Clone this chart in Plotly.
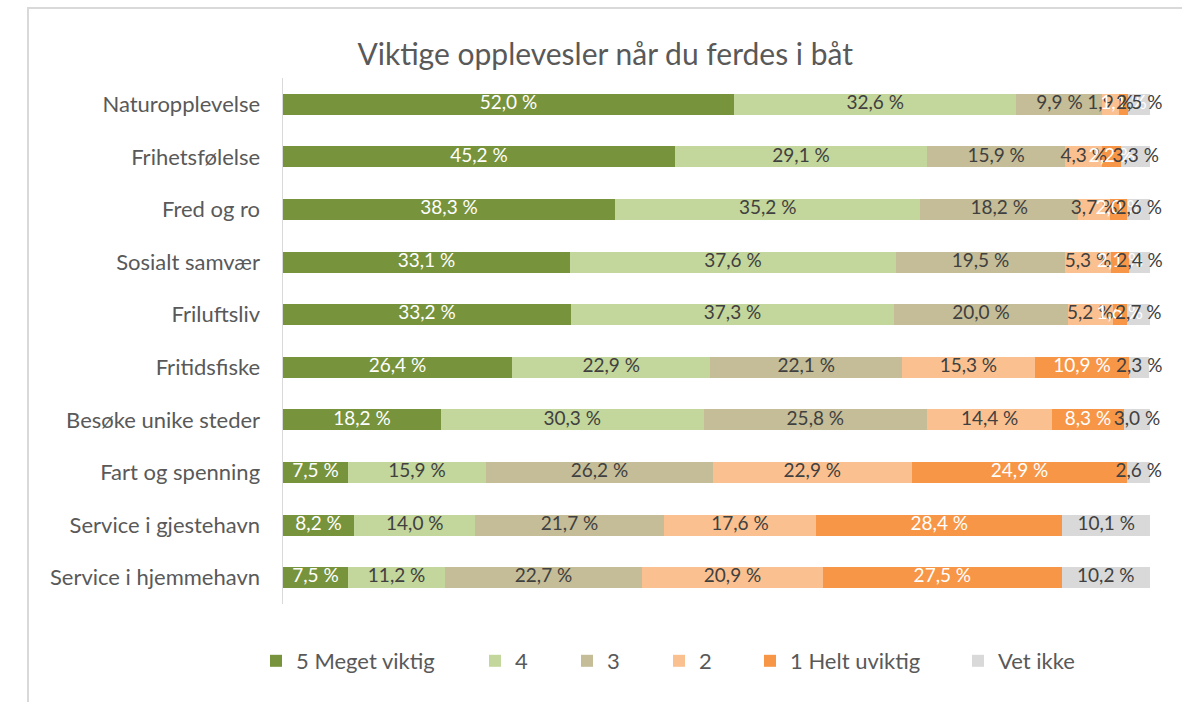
import plotly.graph_objects as go

categories = ["Naturopplevelse", "Frihetsfølelse", "Fred og ro", "Sosialt samvær",
              "Friluftsliv", "Fritidsfiske", "Besøke unike steder", "Fart og spenning",
              "Service i gjestehavn", "Service i hjemmehavn"]

series_names = ["5 Meget viktig", "4", "3", "2", "1 Helt uviktig", "Vet ikke"]

v5 = [52.0, 45.2, 38.3, 33.1, 33.2, 26.4, 18.2, 7.5, 8.2, 7.5]
v4 = [32.6, 29.1, 35.2, 37.6, 37.3, 22.9, 30.3, 15.9, 14.0, 11.2]
v3 = [9.9, 15.9, 18.2, 19.5, 20.0, 22.1, 25.8, 26.2, 21.7, 22.7]
v2 = [1.9, 4.3, 3.7, 5.3, 5.2, 15.3, 14.4, 22.9, 17.6, 20.9]
v1 = [1.1, 2.2, 2.0, 2.1, 1.6, 10.9, 8.3, 24.9, 28.4, 27.5]
v0 = [2.5, 3.3, 2.6, 2.4, 2.7, 2.3, 3.0, 2.6, 10.1, 10.2]

series_values = [v5, v4, v3, v2, v1, v0]
colors = ["#77933C", "#C3D69B", "#C4BD97", "#FAC090", "#F79646", "#D9D9D9"]
text_colors = ["#FFFFFF", "#404040", "#404040", "#404040", "#FFFFFF", "#404040"]

FONT = "Lato"
L, R, T, B = 283, 32, 78, 98
W, H = 1182, 702
PW, PH = W - L - R, H - T - B

# legend square left edges (page px) for each series
legend_px = [272, 491, 583, 675, 766, 974]

fig = go.Figure()
for i, (name, vals, col) in enumerate(zip(series_names, series_values, colors)):
    fig.add_trace(go.Bar(
        y=categories, x=vals, name=name, orientation="h",
        marker=dict(color=col, line=dict(width=0)),
        textposition="none", hoverinfo="skip",
        legend="legend" if i == 0 else f"legend{i + 1}",
    ))

# data labels centred on each segment
starts = [0.0] * len(categories)
for vals, tcol in zip(series_values, text_colors):
    mids = [s + v / 2 for s, v in zip(starts, vals)]
    fig.add_trace(go.Scatter(
        x=mids, y=categories, mode="text",
        text=[f"{v:.1f} %".replace(".", ",") for v in vals],
        textposition="middle center",
        textfont=dict(family=FONT, size=19, color=tcol),
        cliponaxis=False, showlegend=False, hoverinfo="skip",
    ))
    starts = [s + v for s, v in zip(starts, vals)]

legends = {}
for i, px in enumerate(legend_px):
    key = "legend" if i == 0 else f"legend{i + 1}"
    legends[key] = dict(orientation="h", x=(px - 16 - L) / PW, xanchor="left",
                        y=(H - B - 661) / PH, yanchor="middle",
                        font=dict(family=FONT, size=22, color="#595959"),
                        bgcolor="rgba(0,0,0,0)", itemclick=False, itemdoubleclick=False)

fig.update_layout(
    barmode="stack",
    bargap=0.6,
    width=W, height=H,
    margin=dict(l=L, r=R, t=T, b=B, autoexpand=False),
    paper_bgcolor="white", plot_bgcolor="white",
    title=dict(text="Viktige opplevesler når du ferdes i båt",
               font=dict(family=FONT, size=30, color="#595959"),
               x=0.512, xanchor="center", xref="container", y=0.922, yanchor="middle"),
    font=dict(family=FONT, color="#595959"),
    showlegend=True,
    **legends,
)
fig.update_xaxes(range=[0, 100], visible=False, fixedrange=True)
fig.update_yaxes(autorange="reversed", showline=True, linecolor="#D9D9D9", linewidth=1.5,
                 ticks="", ticklabelstandoff=17, automargin=False,
                 tickfont=dict(family=FONT, size=22, color="#595959"), fixedrange=True)

fig.add_shape(type="rect", xref="paper", yref="paper",
              x0=(28 - L) / PW, x1=(W + 5 - L) / PW,
              y0=(H - B - (H + 5)) / PH, y1=(H - B - 8) / PH,
              line=dict(color="#D9D9D9", width=2), fillcolor="rgba(0,0,0,0)", layer="below")

fig.write_html("out.html", config={"displayModeBar": False, "staticPlot": True},
               post_script="document.body.style.margin='0px';")
